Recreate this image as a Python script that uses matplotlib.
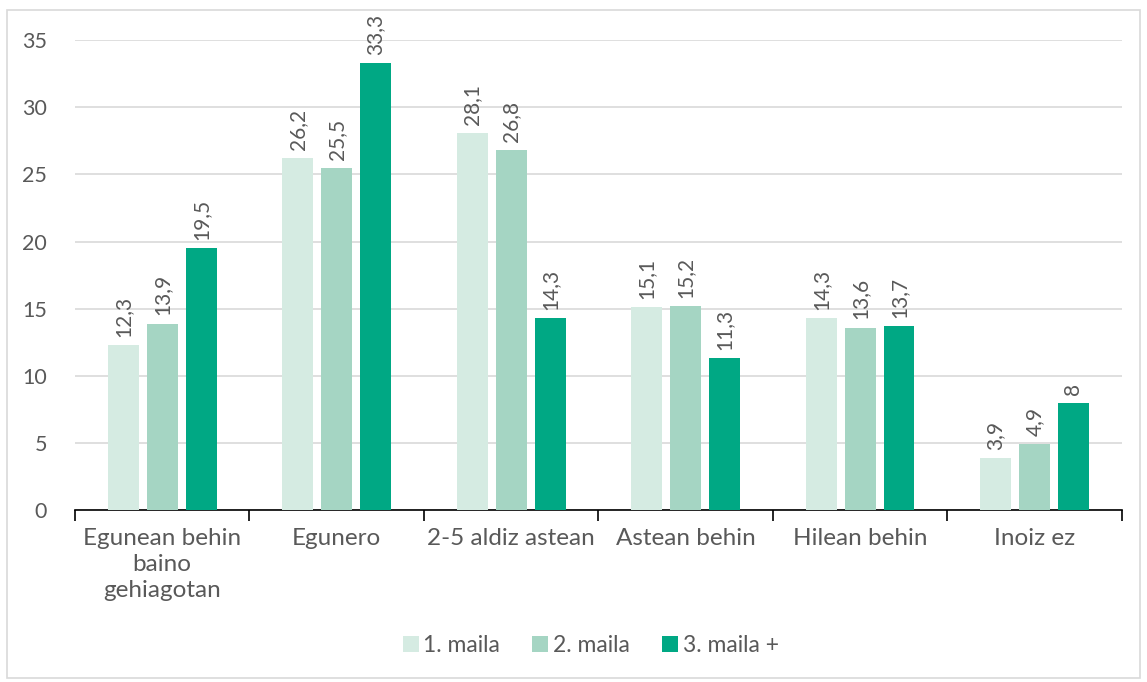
import matplotlib.pyplot as plt
import numpy as np
from matplotlib.patches import Rectangle

categories = ["Egunean behin\nbaino\ngehiagotan", "Egunero", "2-5 aldiz astean",
              "Astean behin", "Hilean behin", "Inoiz ez"]
series_names = ["1. maila", "2. maila", "3. maila +"]
maila1 = [12.3, 26.2, 28.1, 15.1, 14.3, 3.9]
maila2 = [13.9, 25.5, 26.8, 15.2, 13.6, 4.9]
maila3 = [19.5, 33.3, 14.3, 11.3, 13.7, 8]
colors = ["#D5EBE2", "#A5D5C3", "#00A884"]

plt.rcParams['font.family'] = ['Lato', 'DejaVu Sans']
txt = "#595959"

fig = plt.figure(figsize=(11.47, 6.82), dpi=100)
ax = fig.add_axes([0.0654, 0.252, 0.9126, 0.689])
fig.patches.append(Rectangle((0.006, 0.006), 0.988, 0.98, transform=fig.transFigure,
                             fill=False, edgecolor="#D9D9D9", linewidth=1.2))

x = np.arange(len(categories))
w = 0.177
step = 0.223
for i, (vals, name) in enumerate(zip([maila1, maila2, maila3], series_names)):
    pos = x + (i - 1) * step
    ax.bar(pos, vals, width=w, color=colors[i], label=name, zorder=3)
    for p, v in zip(pos, vals):
        lab = f"{v:g}".replace(".", ",")
        ax.text(p, v + 0.6, lab, rotation=90, ha="center", va="bottom",
                fontsize=15, color=txt)

ax.set_xlim(-0.5, len(categories) - 0.5)
ax.set_ylim(0, 35)
ax.set_yticks(range(0, 36, 5))
ax.yaxis.grid(True, color="#D9D9D9", linewidth=1.2, zorder=0)
ax.tick_params(axis="y", length=0, labelsize=15.5, labelcolor=txt, pad=20)
for s in ["top", "right", "left"]:
    ax.spines[s].set_visible(False)
ax.spines["bottom"].set_color("black")
ax.spines["bottom"].set_linewidth(1.2)

ax.set_xticks(np.arange(-0.5, len(categories), 1.0))
ax.set_xticklabels([])
ax.tick_params(axis="x", length=8, width=1.2, color="black")
ax.set_xticks(x, minor=True)
ax.set_xticklabels(categories, minor=True, fontsize=17.5, color=txt, linespacing=1.3)
ax.tick_params(axis="x", which="minor", length=0, pad=13)

leg = fig.legend(loc="center", bbox_to_anchor=(0.515, 0.053), ncol=3, frameon=False,
                 fontsize=16.5, handlelength=0.7, handleheight=0.7, columnspacing=1.4,
                 handletextpad=0.2)
for t in leg.get_texts():
    t.set_color(txt)

fig.savefig("out.png", dpi=100)
